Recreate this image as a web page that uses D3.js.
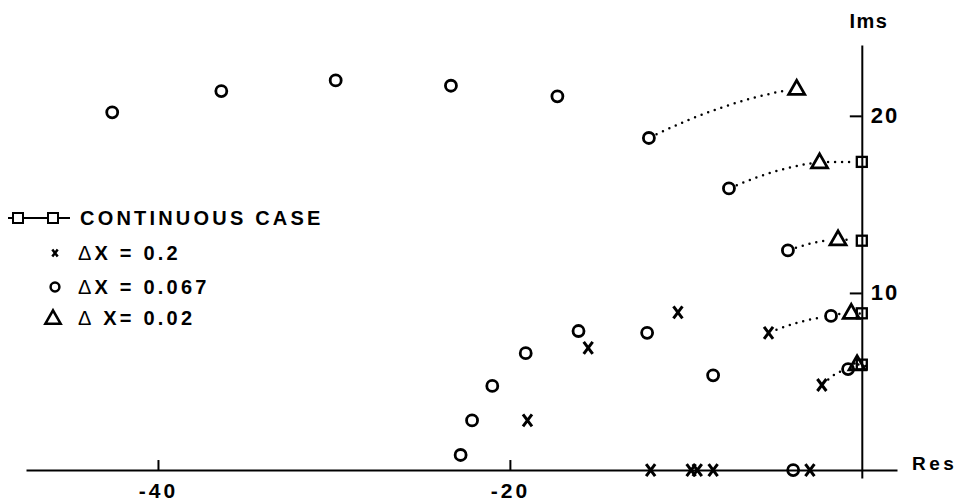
<!DOCTYPE html>
<html>
<head>
<meta charset="utf-8">
<script src="https://cdn.jsdelivr.net/npm/d3@7"></script>
<style>
  body { margin: 0; background: #fff; }
  text { font-family: "Liberation Sans", Arial, sans-serif; fill: #000; }
</style>
</head>
<body>
<script>
var width = 957,
    height = 504;

// roots of the characteristic equation, [Re s, Im s]
var continuous = [[0, 17.4], [0, 12.95], [0, 8.85], [0, 5.95]];

var dx02 = [[-3.7, 21.55], [-2.4, 17.4], [-1.35, 13.05], [-0.6, 8.9], [-0.27, 6.0]];

var dx067 = [
  [-42.6, 20.2], [-36.4, 21.4], [-29.9, 22.0], [-23.35, 21.7], [-17.3, 21.1],
  [-12.1, 18.75], [-7.55, 15.9], [-4.2, 12.4], [-1.75, 8.7], [-0.78, 5.7],
  [-22.8, 0.85], [-22.15, 2.8], [-21.0, 4.75], [-19.1, 6.6], [-16.1, 7.85],
  [-12.2, 7.75], [-8.45, 5.35], [-3.9, 0]
];

var dx2 = [
  [-19.0, 2.8], [-15.55, 6.9], [-10.45, 8.9], [-5.3, 7.75], [-2.27, 4.8],
  [-12.0, 0], [-9.7, 0], [-9.35, 0], [-8.45, 0], [-2.95, 0]
];

// dotted tracks: which roots move into which as the step shrinks
var tracks = [
  [['o', 5], ['t', 0]],
  [['o', 6], ['t', 1], ['s', 0]],
  [['o', 7], ['t', 2], ['s', 1]],
  [['x', 3], ['o', 8], ['t', 3], ['s', 2]],
  [['x', 4], ['o', 9], ['t', 4], ['s', 3]]
];

var xTicks = [-40, -20],
    yTicks = [10, 20];

var legendLabels = ['CONTINUOUS CASE', '\u0394X = 0.2', '\u0394X = 0.067', '\u0394 X= 0.02'];

var series = { s: continuous, t: dx02, o: dx067, x: dx2 };

var x = d3.scaleLinear().domain([-47.5, 2]).range([26, 897]);
var y = d3.scaleLinear().domain([-0.45, 24]).range([478, 45]);

var svg = d3.select('body').append('svg')
  .attr('width', width)
  .attr('height', height);

// axes
var xAxis = d3.axisBottom(x)
  .tickValues(xTicks)
  .tickSizeInner(-10)
  .tickSizeOuter(0)
  .tickPadding(13)
  .tickFormat(function(d) { return '-' + Math.abs(d); });

var gx = svg.append('g')
  .attr('transform', 'translate(0,' + y(0) + ')')
  .call(xAxis);

gx.selectAll('text')
  .attr('font-size', 21)
  .attr('font-weight', 'bold')
  .attr('letter-spacing', 3)
  .attr('fill', '#000')
  .attr('font-family', '"Liberation Sans", Arial, sans-serif');

var yAxis = d3.axisRight(y)
  .tickValues(yTicks)
  .tickSizeInner(-12)
  .tickSizeOuter(0)
  .tickPadding(9);

var gy = svg.append('g')
  .attr('transform', 'translate(' + x(0) + ',0)')
  .call(yAxis);

gy.selectAll('text')
  .attr('font-size', 22)
  .attr('font-weight', 'bold')
  .attr('letter-spacing', 2)
  .attr('fill', '#000')
  .attr('font-family', '"Liberation Sans", Arial, sans-serif');

svg.selectAll('.domain, .tick line')
  .attr('stroke', '#000')
  .attr('stroke-width', 2);

svg.append('text')
  .attr('x', 869).attr('y', 28)
  .attr('text-anchor', 'middle')
  .attr('font-size', 20)
  .attr('font-weight', 'bold')
  .attr('letter-spacing', 1.5)
  .text('Ims');

svg.append('text')
  .attr('x', 912).attr('y', 470)
  .attr('font-size', 19)
  .attr('font-weight', 'bold')
  .attr('letter-spacing', 3.5)
  .text('Res');

// markers
function drawMarker(g, type, size) {
  var k = size || 1;
  if (type === 'o') {
    g.append('circle').attr('r', 5.5 * k);
  } else if (type === 't') {
    g.append('path').attr('d', 'M0,' + (-8 * k) + 'L' + (8 * k) + ',' + (6 * k) + 'L' + (-8 * k) + ',' + (6 * k) + 'Z');
  } else if (type === 's') {
    g.append('rect').attr('x', -5 * k).attr('y', -5 * k).attr('width', 10 * k).attr('height', 10 * k);
  } else if (type === 'x') {
    g.append('path').attr('d', 'M' + (-4.5 * k) + ',' + (-6 * k) + 'L' + (4.5 * k) + ',' + (6 * k) +
      'M' + (4.5 * k) + ',' + (-6 * k) + 'L' + (-4.5 * k) + ',' + (6 * k));
  }
}

// dotted tracks, drawn as gentle quadratic arcs trimmed at the markers
function trackPath(pts) {
  var d = '';
  for (var i = 0; i < pts.length - 1; i++) {
    var a = pts[i], b = pts[i + 1];
    var c = [a[0] + 0.5 * (b[0] - a[0]), a[1] + 0.72 * (b[1] - a[1])];
    var r = 8.5;
    var da = Math.hypot(c[0] - a[0], c[1] - a[1]) || 1;
    var db = Math.hypot(b[0] - c[0], b[1] - c[1]) || 1;
    var p0 = [a[0] + (c[0] - a[0]) * r / da, a[1] + (c[1] - a[1]) * r / da];
    var p1 = [b[0] - (b[0] - c[0]) * r / db, b[1] - (b[1] - c[1]) * r / db];
    d += 'M' + p0 + 'Q' + c + ' ' + p1;
  }
  return d;
}

svg.append('g').selectAll('path')
  .data(tracks)
  .enter().append('path')
  .attr('d', function(t) {
    return trackPath(t.map(function(ref) {
      var p = series[ref[0]][ref[1]];
      return [x(p[0]), y(p[1])];
    }));
  })
  .attr('fill', 'none')
  .attr('stroke', '#000')
  .attr('stroke-width', 2.5)
  .attr('stroke-linecap', 'round')
  .attr('stroke-dasharray', '0,7');

['s', 't', 'o', 'x'].forEach(function(key) {
  svg.append('g')
    .selectAll('g')
    .data(series[key])
    .enter().append('g')
    .attr('transform', function(d) { return 'translate(' + x(d[0]) + ',' + y(d[1]) + ')'; })
    .attr('fill', 'none')
    .attr('stroke', '#000')
    .attr('stroke-width', key === 'x' ? 3 : key === 's' ? 2.3 : 2.8)
    .each(function() { drawMarker(d3.select(this), key); });
});

// legend
var legend = svg.append('g');
var rowsY = [218, 253, 287, 318];
var rowKeys = ['s', 'x', 'o', 't'];

var sym = legend.append('g')
  .attr('transform', 'translate(0,' + rowsY[0] + ')')
  .attr('stroke', '#000')
  .attr('fill', 'none')
  .attr('stroke-width', 2);
sym.append('line').attr('x1', 8).attr('x2', 70);
[18, 53].forEach(function(cx) {
  sym.append('rect').attr('x', cx - 5).attr('y', -5).attr('width', 10).attr('height', 10).attr('fill', '#fff');
});

rowKeys.forEach(function(key, i) {
  if (i > 0) {
    var g = legend.append('g')
      .attr('transform', 'translate(' + (key === 't' ? 53 : 55) + ',' + rowsY[i] + ')')
      .attr('fill', 'none')
      .attr('stroke', '#000')
      .attr('stroke-width', key === 't' ? 2.6 : 2.5);
    drawMarker(g, key, key === 'x' ? 0.6 : key === 'o' ? 0.8 : 0.95);
  }
  var t = legend.append('text')
    .attr('x', i === 0 ? 80 : 78)
    .attr('y', rowsY[i])
    .attr('dy', '0.36em')
    .attr('font-size', 20)
    .attr('font-weight', 'bold')
    .attr('letter-spacing', i === 0 ? 3.2 : 3.2);
  var label = legendLabels[i];
  if (label.charAt(0) === '\u0394') {
    t.append('tspan').attr('font-weight', 'normal').attr('font-size', 20).text('\u0394');
    t.append('tspan').attr('xml:space', 'preserve').text(label.slice(1));
  } else {
    t.text(label);
  }
});
</script>
</body>
</html>
